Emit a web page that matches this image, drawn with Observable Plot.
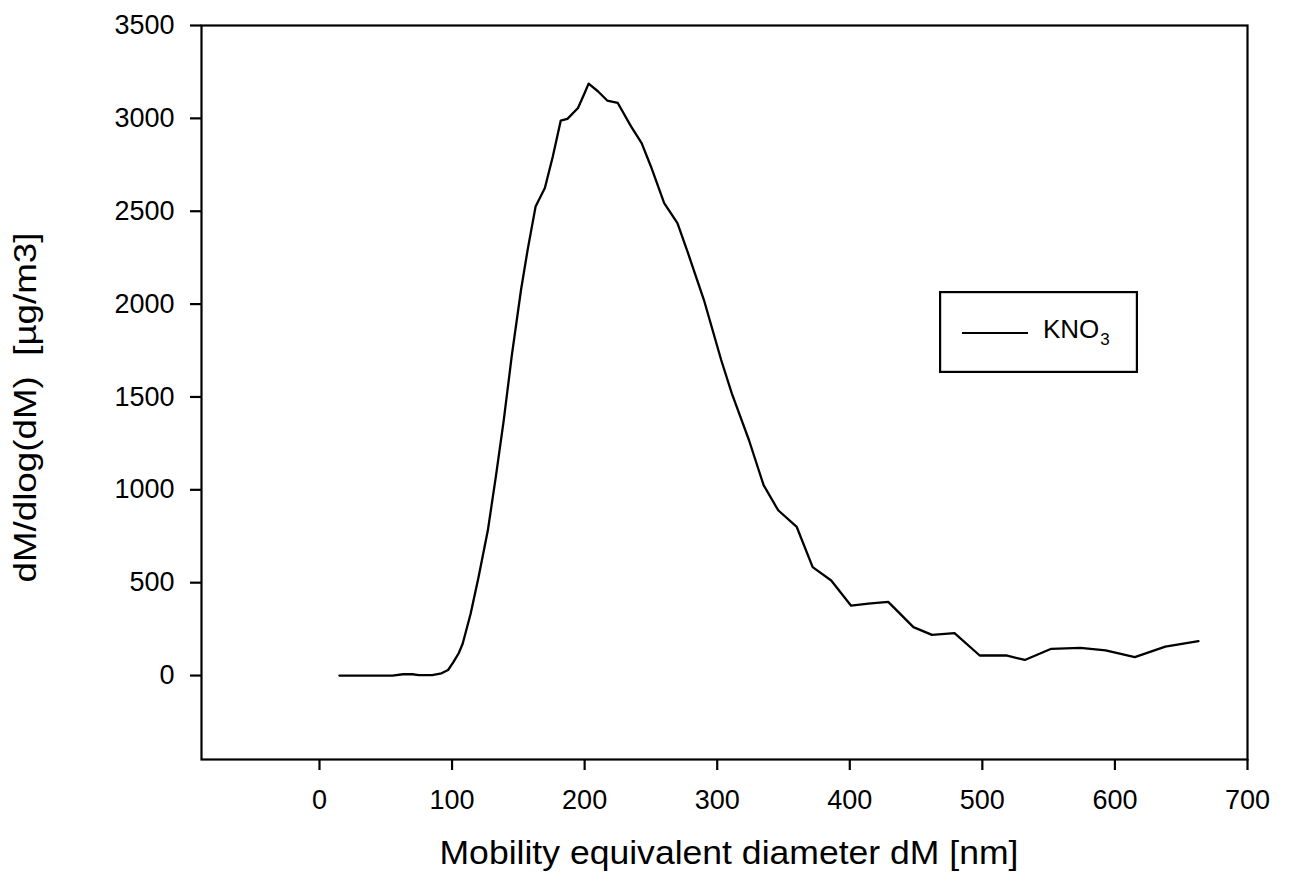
<!DOCTYPE html>
<html>
<head>
<meta charset="utf-8">
<script src="https://cdn.jsdelivr.net/npm/d3@7"></script>
<script src="https://cdn.jsdelivr.net/npm/@observablehq/plot@0.6"></script>
<style>
  html, body { margin: 0; padding: 0; background: #fff; }
  #wrap { position: relative; width: 1293px; height: 888px; font-family: "Liberation Sans", Arial, sans-serif; }
  #legend { position: absolute; left: 939px; top: 291px; }
</style>
</head>
<body>
<div id="wrap"></div>
<script>
// Mobility equivalent diameter dM [nm]
const diameters = [15, 30, 45, 55, 63, 70, 75, 85, 92, 97, 101, 105, 108, 114, 120, 127, 133, 139, 145, 152,
  157, 163, 170, 176, 182, 187, 195, 200, 203, 210, 217, 225, 235, 243, 250, 260, 270, 278, 290, 303,
  311, 324, 335, 346, 360, 372, 386, 401, 414, 429, 448, 462, 479, 498, 518, 532, 552, 574, 593, 615, 638, 663];
// dM/dlog(dM) [µg/m3] for KNO3
const kno3 = [0, 0, 0, 0, 7, 7, 2, 2, 12, 30, 72, 120, 171, 333, 530, 782, 1070, 1375, 1720, 2076,
  2292, 2525, 2625, 2795, 2988, 2997, 3056, 3137, 3187, 3146, 3096, 3083, 2957, 2867, 2741, 2544, 2436, 2274, 2022, 1699,
  1519, 1267, 1025, 890, 800, 584, 512, 376, 387, 397, 261, 219, 228, 108, 108, 84, 144, 149, 135, 99, 156, 185];
const xTicks = [0, 100, 200, 300, 400, 500, 600, 700];
const yTicks = [0, 500, 1000, 1500, 2000, 2500, 3000, 3500];
const xTitle = "Mobility equivalent diameter dM [nm]";
const yTitle = "dM/dlog(dM)\u00a0 [µg/m3]";
const seriesName = "KNO";
const seriesSub = "3";

const data = diameters.map((d, i) => ({d, v: kno3[i]}));

const chart = Plot.plot({
  width: 1293,
  height: 888,
  marginLeft: 201,
  marginRight: 46,
  marginTop: 25,
  marginBottom: 129,
  style: {fontFamily: '"Liberation Sans", Arial, sans-serif', background: "white", color: "black", overflow: "visible"},
  x: {domain: [-89, 700]},
  y: {domain: [-452, 3500]},
  marks: [
    Plot.line(data, {x: "d", y: "v", stroke: "black", strokeWidth: 2.3}),
    Plot.frame({stroke: "black", strokeWidth: 2.2}),
    Plot.axisX(xTicks, {tickSize: 11, tickPadding: 19, fontSize: 27, strokeWidth: 2.2, label: null, tickFormat: d => String(d)}),
    Plot.axisY(yTicks, {tickSize: 11, tickPadding: 16, fontSize: 27, strokeWidth: 2.2, label: null, tickFormat: d => String(d)}),
    Plot.text([xTitle], {text: d => d, frameAnchor: "bottom", textAnchor: "middle", dy: 104, dx: 4.5, fontSize: 33}),
    Plot.text([yTitle], {text: d => d, frameAnchor: "left", textAnchor: "middle", rotate: -90, dx: -175, dy: 15, fontSize: 31})
  ]
});

// stretch the titles to the reference lengths
chart.querySelectorAll("text").forEach(t => {
  if (t.textContent === xTitle) {
    t.setAttribute("textLength", 579);
    t.setAttribute("lengthAdjust", "spacingAndGlyphs");
  } else if (t.textContent === yTitle) {
    t.setAttribute("textLength", 350);
    t.setAttribute("lengthAdjust", "spacingAndGlyphs");
  }
});

const wrap = document.getElementById("wrap");
wrap.appendChild(chart);

// legend box
const ns = "http://www.w3.org/2000/svg";
const leg = document.createElementNS(ns, "svg");
leg.setAttribute("id", "legend");
leg.setAttribute("width", 200);
leg.setAttribute("height", 83);
leg.innerHTML = `
  <rect x="1.1" y="1.1" width="196.8" height="79.8" fill="white" stroke="black" stroke-width="2.2"></rect>
  <line x1="23" x2="89" y1="42" y2="42" stroke="black" stroke-width="2.2"></line>
  <text x="104" y="47" font-family="Liberation Sans, Arial, sans-serif" font-size="26" fill="black">${seriesName}<tspan dx="1" dy="7" font-size="17">${seriesSub}</tspan></text>`;
wrap.appendChild(leg);
</script>
</body>
</html>
